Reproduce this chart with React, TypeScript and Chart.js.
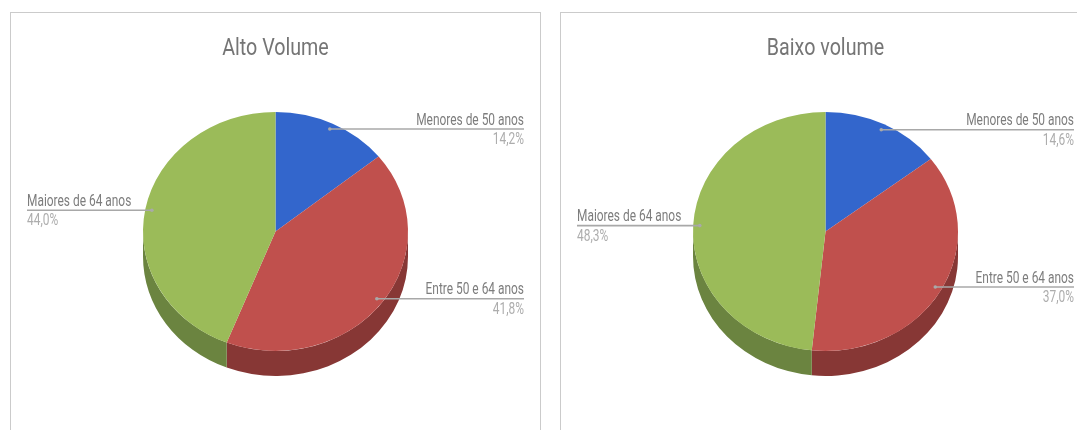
import React, { useEffect, useRef } from "react";
import { Chart, registerables } from "chart.js";

Chart.register(...registerables);

const categories = ["Menores de 50 anos", "Entre 50 e 64 anos", "Maiores de 64 anos"];
const altoValues = [14.2, 41.8, 44.0];
const baixoValues = [14.6, 37.0, 48.3];
const titles = ["Alto Volume", "Baixo volume"];
const topColors = ["#3366cc", "#c0504d", "#9bbb59"];
const sideColors = ["#24478f", "#873735", "#6b8440"];

const SQUASH = 0.902;
const DEPTH = 25;
const TEXT_SCALE = 0.745;
const TITLE_SCALE = 0.82;

const pct = (v: number) => v.toFixed(1).replace(".", ",") + "%";

const pie3d = {
  id: "pie3d",
  beforeDraw(chart: any) {
    const tb = chart.titleBlock;
    if (tb && !tb.__wrapped) {
      const orig = tb.draw.bind(tb);
      tb.draw = (...args: any[]) => {
        const ctx = chart.ctx;
        const cx = chart.width / 2;
        ctx.save();
        ctx.translate(cx, 0);
        ctx.scale(TITLE_SCALE, 1);
        ctx.translate(-cx, 0);
        orig(...args);
        ctx.restore();
      };
      tb.__wrapped = true;
    }
  },
  beforeDatasetsDraw(chart: any) {
    const ctx = chart.ctx;
    const arcs = chart.getDatasetMeta(0).data;
    const { x: cx, y: cy, outerRadius: r } = arcs[0];
    const ry = r * SQUASH;
    arcs.forEach((a: any, i: number) => {
      const s = Math.max(a.startAngle, 0);
      const e = Math.min(a.endAngle, Math.PI);
      if (e > s) {
        ctx.beginPath();
        ctx.ellipse(cx, cy, r, ry, 0, s, e);
        ctx.ellipse(cx, cy + DEPTH, r, ry, 0, e, s, true);
        ctx.closePath();
        ctx.fillStyle = sideColors[i];
        ctx.fill();
      }
    });
    ctx.save();
    ctx.translate(0, cy);
    ctx.scale(1, SQUASH);
    ctx.translate(0, -cy);
  },
  afterDatasetsDraw(chart: any) {
    const ctx = chart.ctx;
    ctx.restore();
    const arcs = chart.getDatasetMeta(0).data;
    const labels = chart.data.labels;
    const values = chart.data.datasets[0].data;
    arcs.forEach((a: any, i: number) => {
      const mid = (a.startAngle + a.endAngle) / 2;
      const px = a.x + Math.cos(mid) * a.outerRadius * 0.95;
      const py = a.y + Math.sin(mid) * a.outerRadius * 0.95 * SQUASH;
      const right = Math.cos(mid) >= 0;
      const anchor = right ? 514 : 17;
      ctx.strokeStyle = "#a8a8a8";
      ctx.lineWidth = 1.6;
      ctx.beginPath();
      ctx.moveTo(px, py);
      ctx.lineTo(anchor, py);
      ctx.stroke();
      ctx.fillStyle = "#a9a9a9";
      ctx.beginPath();
      ctx.arc(px, py, 1.8, 0, Math.PI * 2);
      ctx.fill();
      const text = (s: string, y: number, color: string) => {
        ctx.save();
        ctx.translate(anchor, y);
        ctx.scale(TEXT_SCALE, 1);
        ctx.font = "400 16px Roboto";
        ctx.textAlign = right ? "right" : "left";
        ctx.textBaseline = "alphabetic";
        ctx.fillStyle = color;
        ctx.fillText(s, 0, 0);
        ctx.restore();
      };
      text(labels[i], py - 4.5, "#7d7d7d");
      text(pct(values[i]), py + 15, "#adadad");
    });
  },
};

function Pie({ title, values, left }: { title: string; values: number[]; left: number }) {
  const ref = useRef<HTMLCanvasElement | null>(null);
  useEffect(() => {
    const chart = new Chart(ref.current as HTMLCanvasElement, {
      type: "pie",
      data: {
        labels: categories,
        datasets: [{ data: values, backgroundColor: topColors, borderWidth: 0 }],
      },
      options: {
        animation: false,
        responsive: false,
        devicePixelRatio: 1,
        layout: { padding: { left: 133, right: 133, top: 22.6, bottom: 66 } },
        plugins: {
          legend: { display: false },
          tooltip: { enabled: false },
          title: {
            display: true,
            text: title,
            color: "#757575",
            font: { family: "Roboto", size: 24, weight: "400" },
            padding: { top: 0, bottom: 35.6 },
          },
        },
      },
      plugins: [pie3d],
    } as any);
    return () => chart.destroy();
  }, [title, values]);
  return (
    <div style={{ position: "absolute", left, top: 12, width: 531, height: 440 }}>
      <div
        style={{
          position: "absolute",
          left: 0,
          top: 0,
          width: 531,
          height: 440,
          boxSizing: "border-box",
          border: "1.5px solid #cbcbcb",
        }}
      />
      <canvas ref={ref} width={531} height={418} style={{ display: "block", position: "relative" }} />
    </div>
  );
}

export default function App() {
  return (
    <div
      style={{
        position: "fixed",
        left: 0,
        top: 0,
        width: 1077,
        height: 430,
        overflow: "hidden",
        background: "#fff",
        filter: "blur(0.4px)",
      }}
    >
      <Pie title={titles[0]} values={altoValues} left={10} />
      <Pie title={titles[1]} values={baixoValues} left={560} />
    </div>
  );
}
